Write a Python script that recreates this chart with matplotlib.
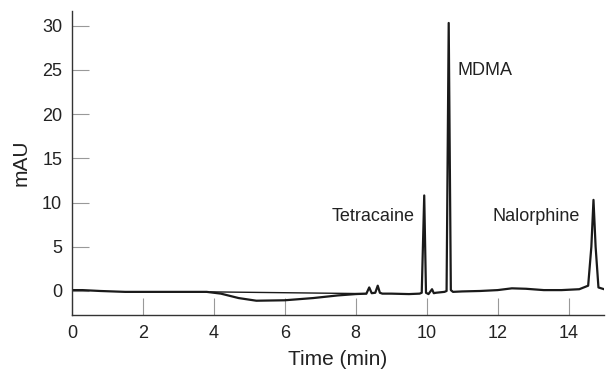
import matplotlib.pyplot as plt

# chromatogram trace (time in min, signal in mAU)
time = [0, 0.3, 0.8, 1.5, 3.0, 3.8, 4.2, 4.7, 5.2, 6.0, 6.8, 7.5, 8.0,
        8.3, 8.38, 8.45, 8.55, 8.62, 8.68, 8.75, 9.0, 9.5, 9.8, 9.86,
        9.93, 9.98, 10.05, 10.15, 10.2, 10.26, 10.5, 10.56, 10.62, 10.68,
        10.74, 11.0, 11.5, 12.0, 12.4, 12.8, 13.3, 13.8, 14.3, 14.55,
        14.64, 14.7, 14.76, 14.84, 15.0]
signal = [0.1, 0.1, 0.0, -0.1, -0.1, -0.1, -0.3, -0.8, -1.1, -1.05, -0.8, -0.5, -0.35,
          -0.3, 0.4, -0.25, -0.2, 0.6, -0.2, -0.3, -0.3, -0.35, -0.3, -0.2,
          10.8, -0.2, -0.35, 0.2, -0.25, -0.2, -0.1, 0.0, 30.3, 0.1,
          -0.1, -0.05, 0.0, 0.1, 0.3, 0.25, 0.1, 0.1, 0.2, 0.6,
          5.0, 10.3, 5.0, 0.4, 0.2]

# drawn baseline under the dip
base_t = [3.9, 8.3]
base_y = [-0.1, -0.3]

peak_names = ["Tetracaine", "MDMA", "Nalorphine"]
label_x = [9.67, 10.87, 14.33]
label_y = [8.4, 24.9, 8.4]
label_ha = ["right", "left", "right"]

plt.rcParams['font.family'] = ['Liberation Sans', 'DejaVu Sans']

fig = plt.figure(figsize=(6.09, 3.70), dpi=100)
ax = fig.add_axes([0.118, 0.149, 0.874, 0.82])

ax.plot(time, signal, color='#1a1a1a', lw=1.6)
ax.plot(base_t, base_y, color='#1a1a1a', lw=1.0)

for name, x, y, ha in zip(peak_names, label_x, label_y, label_ha):
    ax.text(x, y, name, ha=ha, va='center', fontsize=13, color='#222222')

ax.set_xlim(0, 15)
ax.set_ylim(-2.7, 31.6)
ax.set_xticks(range(0, 15, 2))
ax.set_yticks(range(0, 31, 5))

for s in ['top', 'right']:
    ax.spines[s].set_visible(False)
for s in ['left', 'bottom']:
    ax.spines[s].set_color('#333333')
    ax.spines[s].set_linewidth(1.0)

ax.tick_params(axis='both', direction='in', length=12, width=0.8,
               color='#999999', labelsize=13, labelcolor='#222222', pad=7)

ax.set_xlabel('Time (min)', fontsize=15, color='#222222', labelpad=6)
ax.set_ylabel('mAU', fontsize=15, color='#222222', labelpad=8)

fig.savefig('out.png', dpi=100)
